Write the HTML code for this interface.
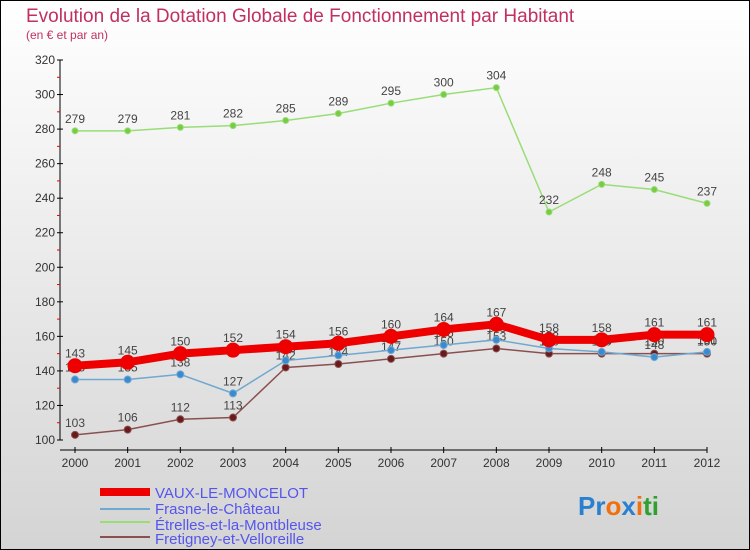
<!DOCTYPE html>
<html><head><meta charset="utf-8"><style>
body{margin:0}
#c{width:750px;height:550px;position:relative;overflow:hidden;background:linear-gradient(#ffffff,#d4d4d4);font-family:"Liberation Sans",sans-serif}
svg text{font-family:"Liberation Sans",sans-serif}
</style></head><body>
<div id="c">
<svg id="s" width="750" height="550">
<rect x="0.5" y="0.5" width="749" height="549" fill="none" stroke="#000"/>
<text x="26" y="22" font-size="19" fill="#c03060">Evolution de la Dotation Globale de Fonctionnement par Habitant</text>
<text x="26" y="39" font-size="12" fill="#c03060">(en € et par an)</text>
<g id="axes"></g><g id="series"></g>
<g>
<rect x="100" y="488" width="50" height="8" fill="#e00"/>
<text x="155" y="498" font-size="15" fill="#5555ee">VAUX-LE-MONCELOT</text>
<line x1="100" y1="509" x2="150" y2="509" stroke="#6fa8d0" stroke-width="2"/>
<text x="155" y="514" font-size="15" fill="#5555ee">Frasne-le-Château</text>
<line x1="100" y1="522" x2="150" y2="522" stroke="#99dd77" stroke-width="2"/>
<text x="155" y="530" font-size="15" fill="#5555ee">Étrelles-et-la-Montbleuse</text>
<line x1="100" y1="537" x2="150" y2="537" stroke="#8a5050" stroke-width="2"/>
<text x="155" y="544" font-size="15" fill="#5555ee">Fretigney-et-Velloreille</text>
</g>
<text x="578" y="515" font-size="26" font-weight="bold"><tspan fill="#2a80d0">Pr</tspan><tspan fill="#f07010">o</tspan><tspan fill="#2a80d0">x</tspan><tspan fill="#f07010">i</tspan><tspan fill="#30a030">ti</tspan></text>
</svg>
<script>
const years=[2000,2001,2002,2003,2004,2005,2006,2007,2008,2009,2010,2011,2012];
const vaux=[143,145,150,152,154,156,160,164,167,158,158,161,161];
const frasne=[135,135,138,127,146,149,152,155,158,153,151,148,151];
const etrelles=[279,279,281,282,285,289,295,300,304,232,248,245,237];
const fret=[103,106,112,113,142,144,147,150,153,150,150,150,150];
const yTicks=[100,120,140,160,180,200,220,240,260,280,300,320];
const NS="http://www.w3.org/2000/svg";
const X=i=>75+i*(707-75)/(years.length-1);
const Y=v=>440-(v-100)*(380/220);
function mk(t,a,p){const e=document.createElementNS(NS,t);for(const k in a)e.setAttribute(k,a[k]);p.appendChild(e);return e;}
const ax=document.getElementById('axes');
mk('line',{x1:60,y1:60,x2:60,y2:440,stroke:'#000'},ax);
mk('line',{x1:60,y1:450,x2:707,y2:450,stroke:'#000'},ax);
yTicks.forEach(v=>{
 mk('line',{x1:57,y1:Y(v),x2:63,y2:Y(v),stroke:'#000'},ax);
 if(v<320) mk('line',{x1:57,y1:Y(v+10),x2:60,y2:Y(v+10),stroke:'#e00'},ax);
 const t=mk('text',{x:55,y:Y(v)+4,'font-size':12,'text-anchor':'end',fill:'#333'},ax);
 
 
 t.textContent=v;
});
years.forEach((y,i)=>{
 mk('line',{x1:X(i),y1:447,x2:X(i),y2:453,stroke:'#000'},ax);
 const t=mk('text',{x:X(i),y:467,'font-size':12,'text-anchor':'middle',fill:'#333'},ax);
 
 
 t.textContent=y;
});
const sg=document.getElementById('series');
function series(d,name,color,w,r,dot){
 const g=mk('g',{},sg);
 
 
 mk('polyline',{points:d.map((v,i)=>X(i)+','+Y(v)).join(' '),fill:'none',stroke:color,'stroke-width':w},g);
 d.forEach((v,i)=>{
  const c=mk('circle',{cx:X(i),cy:Y(v),r:r,fill:dot,stroke:color,'stroke-width':1},g);
  
  
  const t=mk('text',{x:X(i),y:Y(v)-8,'font-size':12,'text-anchor':'middle',fill:'#444'},g);
  
  
  t.textContent=v;
 });
}
series(etrelles,'etrelles','#99dd77',1.5,3,'#77cc44');
series(fret,'fretigney','#8a5050',1.5,3.5,'#6a1a1a');
series(frasne,'frasne','#6fa8d0',1.5,3.5,'#3a8ad0');
series(vaux,'vaux','#ee0000',8,7,'#ee0000');
</script>
</div>
</body></html>
